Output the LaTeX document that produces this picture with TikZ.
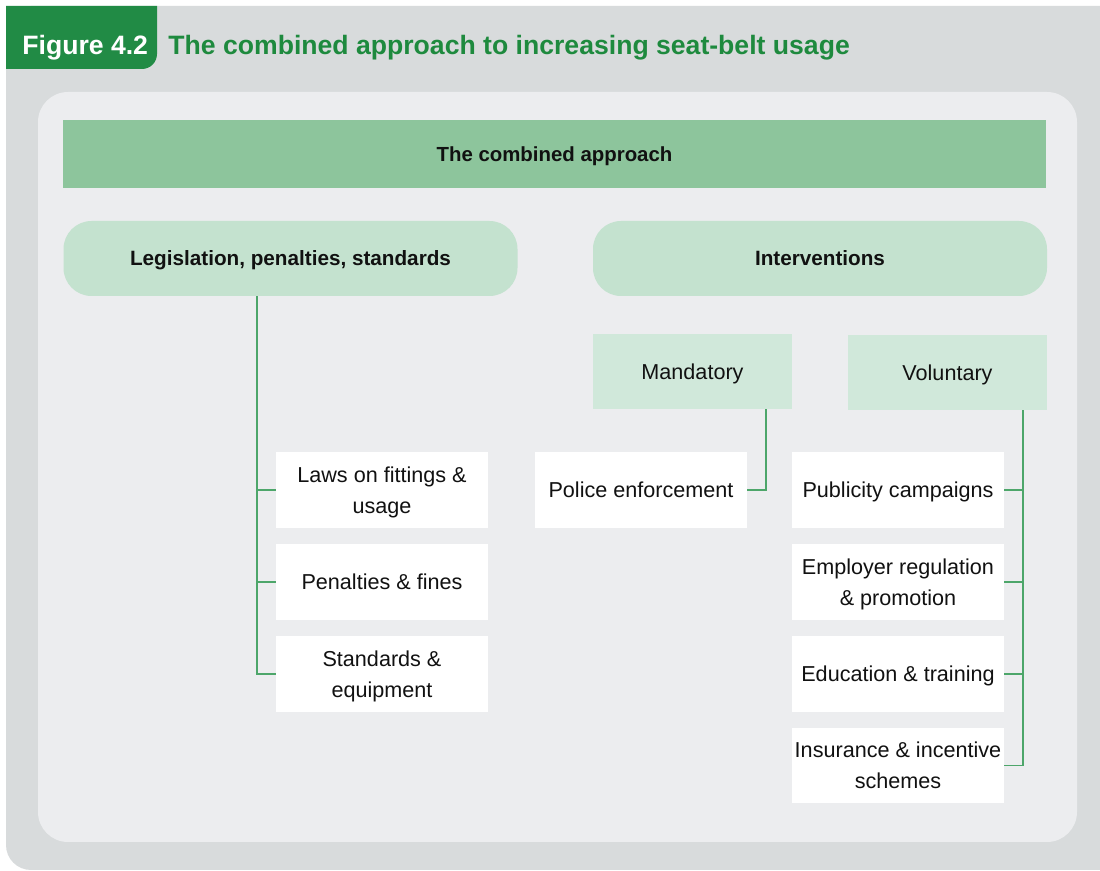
\documentclass[tikz,border=0pt]{standalone}
\usepackage{fontspec}
\setmainfont{Liberation Sans}
\definecolor{outerpanel}{HTML}{D8DBDC}
\definecolor{innerpanel}{HTML}{ECEDEF}
\definecolor{tabgreen}{HTML}{218B45}
\definecolor{titlegreen}{HTML}{1E8A3E}
\definecolor{barcol}{HTML}{8DC59C}
\definecolor{headcol}{HTML}{C4E2CF}
\definecolor{subcol}{HTML}{D0E8DA}
\definecolor{linecol}{HTML}{4DA66A}
\definecolor{txt}{HTML}{111111}
\begin{document}
\begin{tikzpicture}[x=0.5pt,y=-0.5pt,
  bar/.style={fill=barcol, minimum width=491.5pt, minimum height=34pt, inner sep=0pt,
    text=txt, text height=7.3pt, text depth=0pt, font=\bfseries\fontsize{10.2}{12}\selectfont},
  head/.style={fill=headcol, rounded corners=14pt, minimum width=227pt, minimum height=37.5pt,
    inner sep=0pt, text=txt, text height=7.4pt, text depth=0pt, font=\bfseries\fontsize{10.35}{12}\selectfont},
  sub/.style={fill=subcol, minimum width=99.5pt, minimum height=37.5pt, inner sep=0pt,
    text=txt, text height=7.7pt, text depth=0pt, font=\fontsize{10.8}{15.5}\selectfont},
  item/.style={fill=white, minimum width=106pt, minimum height=38pt, inner xsep=1pt, inner ysep=0pt,
    align=center, text=txt, text height=7.7pt, text depth=0pt, font=\fontsize{10.8}{15.5}\selectfont},
  twoline/.style={text height=23.2pt, text depth=0pt},
  link/.style={draw=linecol, line width=0.75pt}]
\useasboundingbox (0,0) rectangle (1100,871);
\clip (0,0) rectangle (1100,871);
\fill[white] (0,0) rectangle (1100,871);
% outer panel
\fill[outerpanel, rounded corners=12.5pt] (6,6) rectangle (1130,870);
% tab
\fill[tabgreen] (6,6) -- (157,6) -- (157,54) arc[start angle=0,end angle=90,radius=15] -- (6,69) -- cycle;
\node[anchor=base west, text=white, font=\bfseries\fontsize{13.3}{16}\selectfont, inner sep=0pt] (fig) at (22,55) {Figure 4.2};
\node[anchor=base west, text=titlegreen, font=\bfseries\fontsize{13.3}{16}\selectfont, inner sep=0pt] (title) at (168,55) {The combined approach to increasing seat-belt usage};
% inner panel
\fill[innerpanel, rounded corners=15pt] (38,92) rectangle (1077,842);

\node[bar] (top) at (554.5,154) {The combined approach};
\node[head] (leg) at (290.5,258.5) {Legislation, penalties, standards};
\node[head] (int) at (820,258.5) {Interventions};
\node[sub] (mand) at (692.5,371.5) {Mandatory};
\node[sub] (vol) at (947.5,372.5) {Voluntary};

\node[item, twoline] (laws) at (382,490) {Laws on fittings \&\\usage};
\node[item] (pen) at (382,582) {Penalties \& fines};
\node[item, twoline] (std) at (382,674) {Standards \&\\equipment};
\node[item] (pol) at (641,490) {Police enforcement};
\node[item] (pub) at (898,490) {Publicity campaigns};
\node[item, twoline] (emp) at (898,582) {Employer regulation\\\& promotion};
\node[item] (edu) at (898,674) {Education \& training};
\node[item, twoline, minimum height=37.5pt] (ins) at (898,765.5) {Insurance \& incentive\\schemes};

\coordinate (lx) at (257,0);
\coordinate (mx) at (766,0);
\coordinate (vx) at (1023,0);

\draw[link] (lx |- leg.south) |- (laws.west);
\draw[link] (lx |- leg.south) |- (pen.west);
\draw[link] (lx |- leg.south) |- (std.west);
\draw[link] (mx |- mand.south) |- (pol.east);
\draw[link] (vx |- vol.south) |- (pub.east);
\draw[link] (vx |- vol.south) |- (emp.east);
\draw[link] (vx |- vol.south) |- (edu.east);
\draw[link] (vx |- vol.south) |- (ins.east);
\end{tikzpicture}
\end{document}
